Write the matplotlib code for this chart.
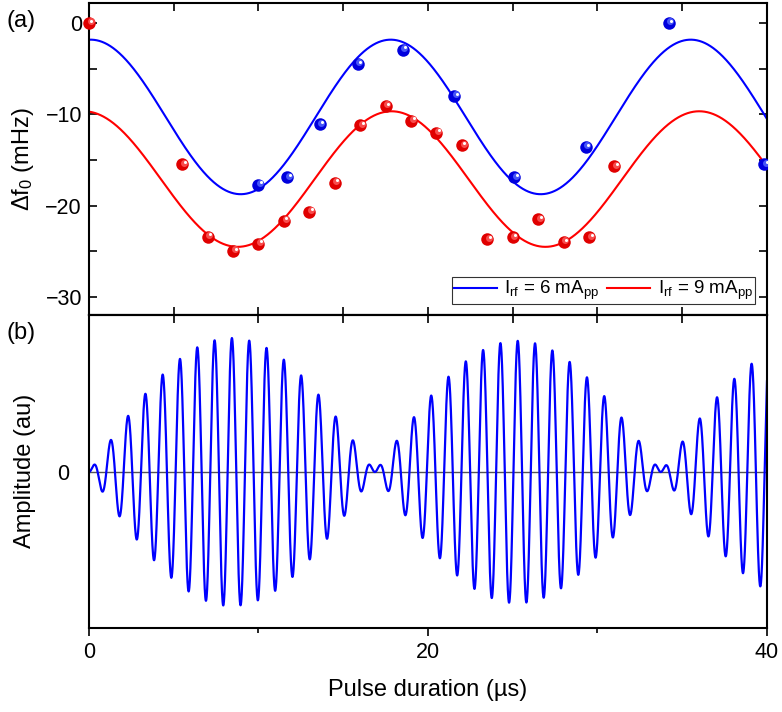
import numpy as np
import matplotlib
matplotlib.use("Agg")
import matplotlib.pyplot as plt
import matplotlib.transforms as mtransforms

plt.rcParams['font.family'] = ['Liberation Sans', 'DejaVu Sans']
plt.rcParams['mathtext.fontset'] = 'custom'
plt.rcParams['mathtext.rm'] = 'Liberation Sans'
plt.rcParams['mathtext.it'] = 'Liberation Sans:italic'

blue_x = [10.0, 11.7, 13.6, 15.85, 18.5, 21.55, 25.1, 29.3, 34.2, 39.85]
blue_y = [-17.7, -16.9, -11.1, -4.5, -2.9, -8.0, -16.9, -13.6, 0.0, -15.5]

red_x = [0.0, 5.5, 7.0, 8.5, 10.0, 11.5, 13.0, 14.5, 16.0, 17.5,
         19.0, 20.5, 22.0, 23.5, 25.0, 26.5, 28.0, 29.5, 31.0]
red_y = [0.0, -15.5, -23.4, -25.0, -24.2, -21.65, -20.7, -17.5, -11.2, -9.1,
         -10.7, -12.0, -13.4, -23.7, -23.5, -21.5, -24.0, -23.5, -15.7]

# sine fits: offset, amplitude, period (us), position of maximum (us)
blue_fit = [-10.29, 8.47, 17.7, 17.8]
red_fit = [-17.1, 7.43, 18.15, 17.85]

labels = [r'I$_\mathrm{rf}$ = 6 mA$_\mathrm{pp}$', r'I$_\mathrm{rf}$ = 9 mA$_\mathrm{pp}$']

### panel (b): beat signal parameters
carrier_period = 1.022   # us
beat_period = 16.87      # us, distance between nodes
decay_time = 800.0       # us
peak_amp = 1.0

blue = '#0000ff'
red = '#ff0000'

t = np.linspace(0, 40, 6000)

def sine_fit(x, p):
    return p[0] + p[1] * np.cos(2 * np.pi * (x - p[3]) / p[2])

fig = plt.figure(figsize=(7.82, 7.12), dpi=100)
axa = fig.add_axes([0.1138, 0.5576, 0.867, 0.4382])
axb = fig.add_axes([0.1138, 0.1184, 0.867, 0.4392])

#~~~~ panel a
axa.plot(t, sine_fit(t, blue_fit), color=blue, lw=1.5, label=labels[0])
axa.plot(t, sine_fit(t, red_fit), color=red, lw=1.5, label=labels[1])

def balls(ax, x, y, col, light, clip):
    ax.plot(x, y, 'o', ms=9, color=col, mec='none', clip_on=clip, zorder=3)
    off = mtransforms.ScaledTranslation(1.2 / 72, 1.2 / 72, fig.dpi_scale_trans)
    ax.plot(x, y, 'o', ms=5, color=light, mec='none', clip_on=clip, zorder=4,
            transform=ax.transData + off, alpha=0.8)
    off2 = mtransforms.ScaledTranslation(1.8 / 72, 1.8 / 72, fig.dpi_scale_trans)
    ax.plot(x, y, 'o', ms=2.2, color='white', mec='none', clip_on=clip, zorder=5,
            transform=ax.transData + off2)

balls(axa, blue_x, blue_y, '#0000dd', '#5a6cff', True)
balls(axa, red_x, red_y, '#e00000', '#ff6060', False)

axa.set_xlim(0, 40)
axa.set_ylim(-32, 2.2)
axa.set_yticks([0, -10, -20, -30])
axa.set_yticks([-5, -15, -25], minor=True)
axa.set_xticks(np.arange(0, 41, 5))
axa.set_xticklabels([])
axa.tick_params(which='both', direction='in', top=True, right=True, length=6,
                width=1.2, labelsize=15.5, pad=5)
axa.set_ylabel('Δf$_0$ (mHz)', fontsize=17)
axa.yaxis.set_label_coords(-0.078, 0.5)
leg = axa.legend(loc='lower right', bbox_to_anchor=(0.982, 0.035), ncol=2,
                 fontsize=13.5, frameon=True, fancybox=False, handlelength=2.3,
                 borderpad=0.1, columnspacing=0.4, handletextpad=0.4,
                 borderaxespad=0)
leg.get_frame().set_edgecolor('black')
leg.get_frame().set_linewidth(0.8)

#~~~~ panel b
sig = peak_amp * np.sin(np.pi * t / beat_period) * np.sin(2 * np.pi * t / carrier_period) * np.exp(-t / decay_time)
axb.axhline(0, color='#555555', lw=1.0, zorder=1)
axb.plot(t, sig, color=blue, lw=1.6, zorder=2)
axb.set_xlim(0, 40)
axb.set_ylim(-1.15, 1.16)
axb.set_yticks([0])
axb.tick_params(axis='y', length=0, labelsize=15.5, pad=14)
axb.set_xticks([0, 20, 40])
axb.set_xticks([10, 30], minor=True)
axb.tick_params(axis='x', which='major', direction='out', length=6, width=1.2,
                labelsize=15.5, pad=4)
axb.tick_params(axis='x', which='minor', direction='out', length=3.5, width=1.2)
axb.set_ylabel('Amplitude (au)', fontsize=17)
axb.yaxis.set_label_coords(-0.078, 0.5)
axb.set_xlabel('Pulse duration (µs)', fontsize=17)
axb.xaxis.set_label_coords(0.5, -0.164)

# top ticks of panel b, pointing down into the panel
sec = axb.secondary_xaxis('top')
sec.set_xticks(np.arange(0, 41, 5))
sec.set_xticklabels([])
sec.tick_params(direction='in', length=6, width=1.2)

for ax in (axa, axb):
    for s in ax.spines.values():
        s.set_linewidth(1.5)
sec.spines['top'].set_linewidth(1.5)

fig.text(0.008, 0.97, '(a)', fontsize=17, va='center', ha='left')
fig.text(0.008, 0.532, '(b)', fontsize=17, va='center', ha='left')

fig.savefig('out.png', dpi=100)
